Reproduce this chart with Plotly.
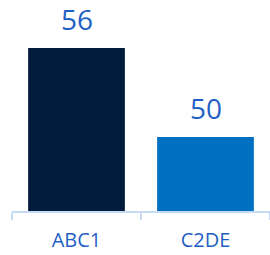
import plotly.graph_objects as go

categories = ["ABC1", "C2DE"]
values = [56, 50]
bar_colors = ["#021C3E", "#0070C0"]

text_color = "#1F5FC4"
axis_color = "#C6DAF5"

fig = go.Figure()
fig.add_trace(go.Bar(
    x=categories, y=values,
    marker=dict(color=bar_colors, line=dict(width=0)),
    hoverinfo="skip",
))

for c, v in zip(categories, values):
    fig.add_annotation(
        x=c, y=v, text=str(v), showarrow=False,
        yanchor="bottom", yshift=8,
        font=dict(family="Open Sans", size=28, color=text_color),
    )

fig.update_layout(
    width=270, height=255,
    margin=dict(l=12, r=0, t=5, b=44, autoexpand=False),
    paper_bgcolor="white", plot_bgcolor="white",
    bargap=0.25,
    showlegend=False,
    xaxis=dict(
        type="category", range=[-0.5, 1.5], automargin=False,
        showline=True, linecolor=axis_color, linewidth=2,
        ticks="outside", tickson="boundaries", ticklen=7, tickwidth=2, tickcolor=axis_color,
        tickfont=dict(family="Open Sans", size=20, color=text_color),
        ticklabelstandoff=10,
        showgrid=False, zeroline=False, fixedrange=True,
    ),
    yaxis=dict(
        range=[45, 58.9], visible=False, showgrid=False, zeroline=False,
        fixedrange=True, automargin=False,
    ),
)

fig.write_html(
    "out.html",
    config={"displayModeBar": False},
    post_script="document.body.style.margin='0';document.body.style.padding='0';document.body.style.overflow='hidden';",
)
